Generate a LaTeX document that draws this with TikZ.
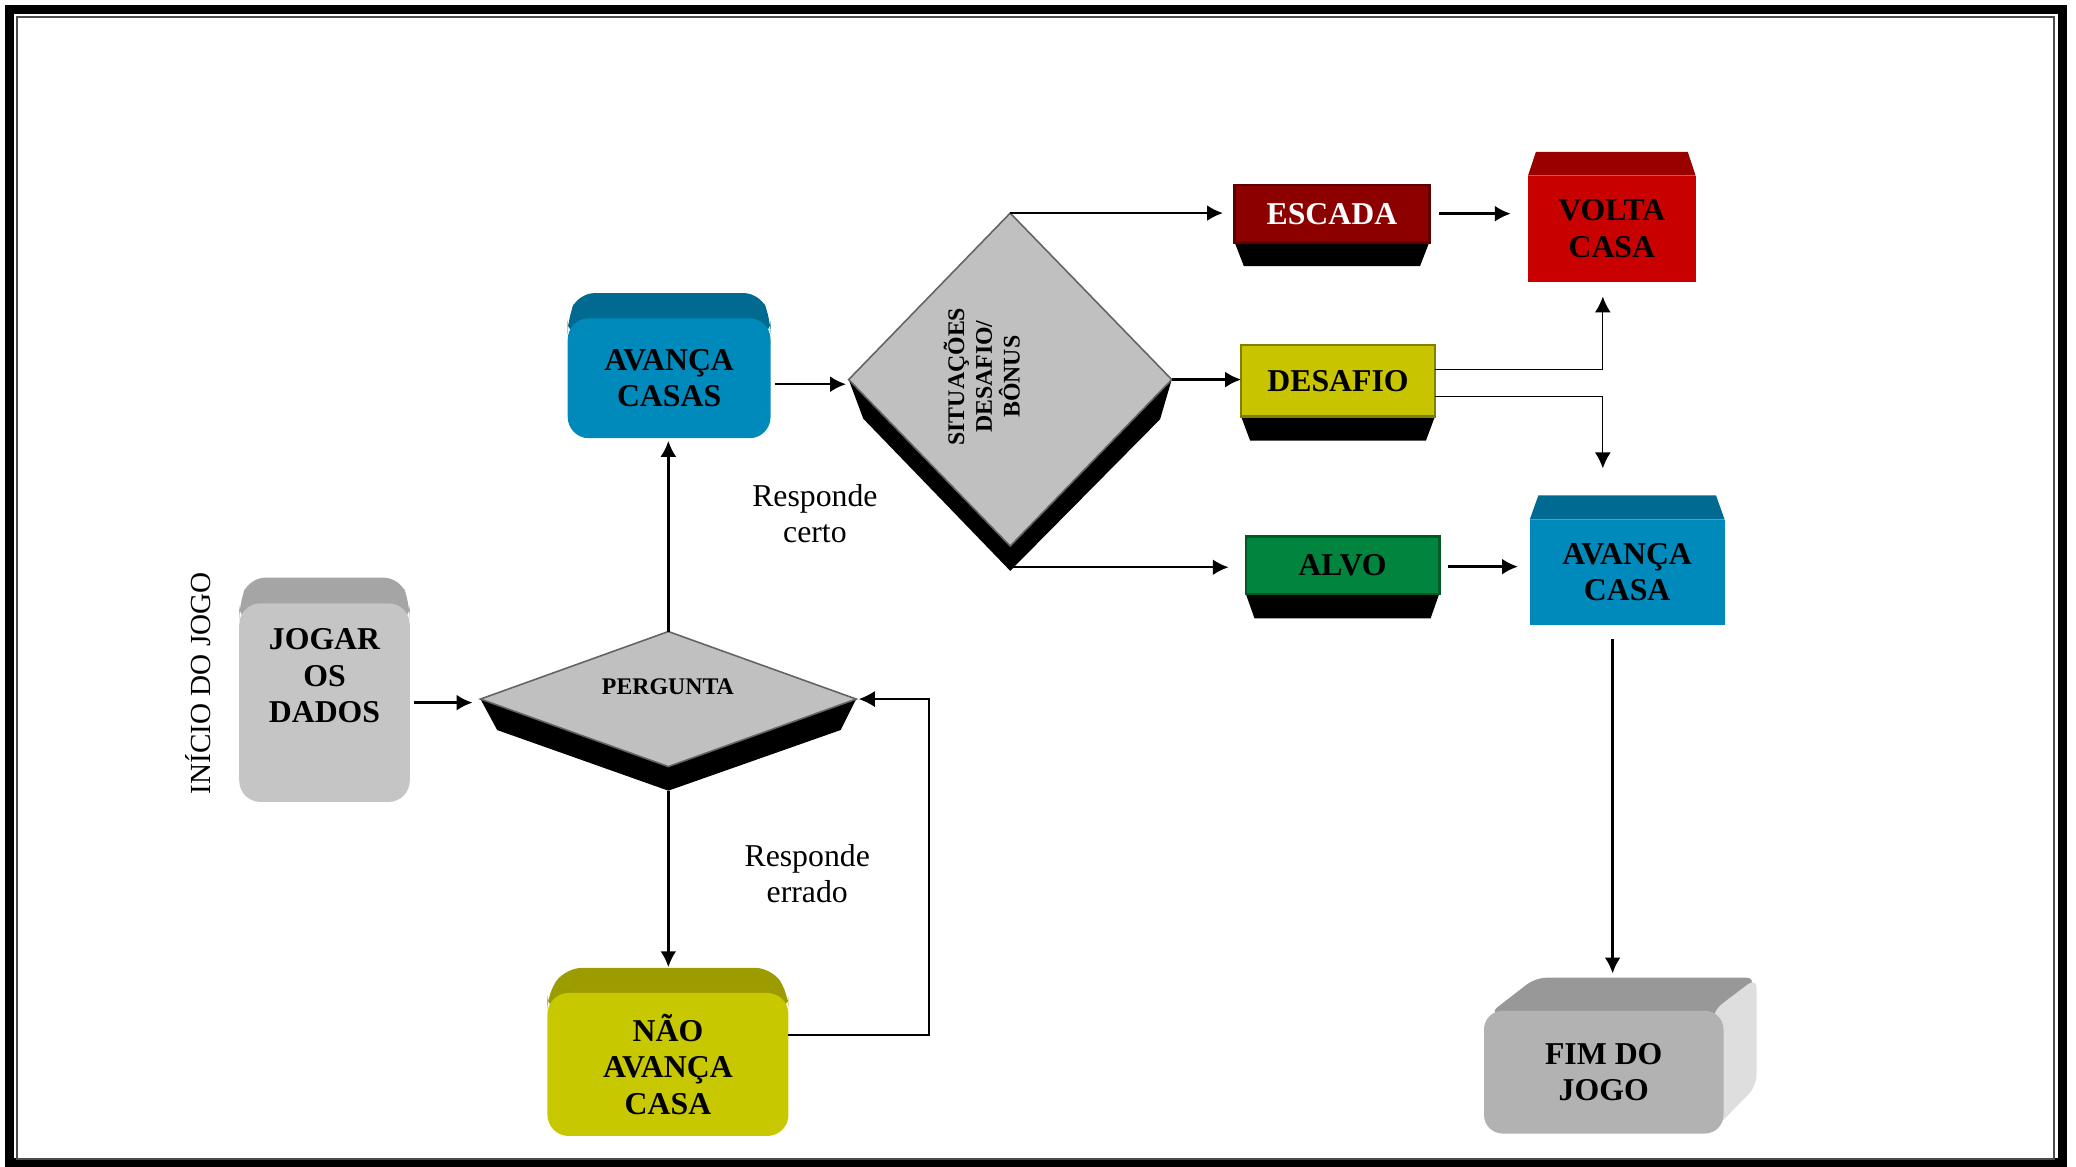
\documentclass[tikz,border=0pt]{standalone}
\usepackage{fontspec}
\setmainfont{Liberation Serif}
\usetikzlibrary{arrows.meta}
\usetikzlibrary{calc}
\usetikzlibrary{backgrounds}
\usetikzlibrary{shapes.geometric}
\definecolor{boxblue}{RGB}{0,137,187}
\definecolor{boxbluetop}{RGB}{0,106,145}
\definecolor{boxolive}{RGB}{200,200,0}
\definecolor{boxolivetop}{RGB}{156,156,0}
\definecolor{boxgray}{RGB}{197,197,197}
\definecolor{boxgraytop}{RGB}{165,165,165}
\definecolor{boxred}{RGB}{200,0,0}
\definecolor{boxredtop}{RGB}{153,0,0}
\definecolor{escred}{RGB}{140,0,0}
\definecolor{escline}{RGB}{95,0,0}
\definecolor{desyel}{RGB}{200,196,0}
\definecolor{desline}{RGB}{128,128,0}
\definecolor{alvogreen}{RGB}{0,132,62}
\definecolor{alvoline}{RGB}{0,90,40}
\definecolor{fimgray}{RGB}{178,178,178}
\definecolor{fimtop}{RGB}{152,152,152}
\definecolor{fimside}{RGB}{222,222,222}
\definecolor{dmdgray}{RGB}{192,192,192}
\definecolor{dmdline}{RGB}{100,100,100}
\begin{document}
\begin{tikzpicture}[
        x=0.5pt, y=-0.5pt,
        >={Latex[length=6pt,width=6pt]},
        arr/.style = {->, line width=0.9pt},
        thinarr/.style = {->, line width=0.5pt},
        face/.style = {inner sep=0pt, outer sep=0pt, align=center, font=\bfseries\fontsize{12}{13.8}\selectfont},
        dmd/.style = {diamond, draw=dmdline, line width=0.6pt, fill=dmdgray, inner sep=0pt, outer sep=0pt},
        small/.style = {inner sep=0pt, align=center, font=\bfseries\fontsize{9}{10.5}\selectfont},
        plain/.style = {align=center, font=\fontsize{12}{13.5}\selectfont}
    ]
    \useasboundingbox (0,0) rectangle (1568,881);
    \draw[line width=3.4pt] (7.2,7.2) rectangle (1557.7,878);
    \draw[line width=0.8pt, black!70] (12.9,12.9) rectangle (1551.4,875.4);

    \node[face, rounded corners=8pt, fill=boxgray, minimum width=64.4pt, minimum height=75pt] (jog) at (245.1,530.7) {};
    \node[face] (jogtxt) at (245.1,510.5) {JOGAR\\OS\\DADOS};
    \node[face, rounded corners=8pt, fill=boxblue, minimum width=76.6pt, minimum height=45.3pt] (acas) at (505.4,285.7) {AVANÇA\\CASAS};
    \node[face, rounded corners=8pt, fill=boxolive, minimum width=91pt, minimum height=54pt] (nao) at (504.5,804) {NÃO\\AVANÇA\\CASA};
    \node[face, fill=boxred, minimum width=63.35pt, minimum height=40pt] (volta) at (1217.4,172.7) {VOLTA\\CASA};
    \node[face, fill=boxblue, minimum width=73.6pt, minimum height=39.7pt] (acasa) at (1229,432.1) {AVANÇA\\CASA};
    \node[face, fill=escred, draw=escline, line width=1pt, text=white, minimum width=73.5pt, minimum height=21.65pt] (esc) at (1006,161.4) {ESCADA};
    \node[face, fill=desyel, draw=desline, line width=1pt, minimum width=73.2pt, minimum height=27pt] (des) at (1010.6,287.6) {DESAFIO};
    \node[face, fill=alvogreen, draw=alvoline, line width=1pt, minimum width=73pt, minimum height=21.65pt] (alvo) at (1014,427) {ALVO};
    \node[face, rounded corners=7pt, fill=fimgray, minimum width=90.45pt, minimum height=46.35pt] (fim) at (1211.3,809.8) {FIM DO\\JOGO};

    \node[dmd, minimum width=141.9pt, minimum height=51pt] (perg) at (504.8,528) {};
    \node[small] (pergtxt) at (504.5,518.5) {PERGUNTA};
    \node[dmd, minimum width=122pt, minimum height=125.75pt] (sit) at (763,286.7) {};
    \node[small, rotate=90] (sittxt) at (741.5,284.5) {SITUAÇÕES\\DESAFIO/\\BÔNUS};

    \node[font=\fontsize{11}{13}\selectfont, rotate=90] (inicio) at (150,516) {INÍCIO DO JOGO};
    \node[plain] (rcerto) at (615.5,388) {Responde\\certo};
    \node[plain] (rerrado) at (609.7,660) {Responde\\errado};

    \begin{scope}[on background layer]
        \fill[boxgraytop, rounded corners=6pt] ($(jog.north west)+(0,14)$) -- (jog.north west) -- ($(jog.north west)+(7.5,-19.4)$) -- ($(jog.north east)+(-7.5,-19.4)$) -- (jog.north east) -- ($(jog.north east)+(0,14)$) -- cycle;
        \fill[boxbluetop, rounded corners=6pt] ($(acas.north west)+(0,14)$) -- (acas.north west) -- ($(acas.north west)+(8,-19)$) -- ($(acas.north east)+(-8,-19)$) -- (acas.north east) -- ($(acas.north east)+(0,14)$) -- cycle;
        \fill[boxolivetop, rounded corners=6pt] ($(nao.north west)+(0,14)$) -- (nao.north west) -- ($(nao.north west)+(14,-19)$) -- ($(nao.north east)+(-13,-19)$) -- (nao.north east) -- ($(nao.north east)+(0,14)$) -- cycle;
        \fill[boxredtop] (volta.north west) -- ($(volta.north west)+(6,-18)$) -- ($(volta.north east)+(-6,-18)$) -- (volta.north east) -- cycle;
        \fill[boxbluetop] (acasa.north west) -- ($(acasa.north west)+(6.5,-18.2)$) -- ($(acasa.north east)+(-6.5,-18.2)$) -- (acasa.north east) -- cycle;
        \fill[black] (esc.south west) -- (esc.south east) -- ($(esc.south east)+(-7,18)$) -- ($(esc.south west)+(7,18)$) -- cycle;
        \fill[black] (des.south west) -- (des.south east) -- ($(des.south east)+(-6.8,18.2)$) -- ($(des.south west)+(6.8,18.2)$) -- cycle;
        \fill[black] (alvo.south west) -- (alvo.south east) -- ($(alvo.south east)+(-6.5,18.4)$) -- ($(alvo.south west)+(6.5,18.4)$) -- cycle;
        \fill[fimtop, rounded corners=4pt] ($(fim.north west)+(4,2)$) -- ($(fim.north west)+(39,-25)$) -- ($(fim.north east)+(25,-25)$) -- ($(fim.north east)+(0,8)$) -- cycle;
        \fill[fimside, rounded corners=4pt] ($(fim.north east)+(-8,0)$) -- ($(fim.north east)+(25,-25)$) -- ($(fim.south east)+(25,-36)$) -- ($(fim.south east)+(-8,-2)$) -- cycle;
        \fill[black] (perg.west) -- ($(perg.west)+(12.6,23.4)$) -- ($(perg.south)+(0,18.2)$) -- ($(perg.east)+(-11.8,23.4)$) -- (perg.east) -- (perg.south) -- cycle;
        \fill[black] (sit.west) -- ($(sit.west)+(11,29.5)$) -- ($(sit.south)+(0,18.7)$) -- ($(sit.east)+(-8.8,30)$) -- (sit.east) -- (sit.south) -- cycle;
    \end{scope}

    \coordinate (pergbot) at ($(perg.south)+(0,18.2)$);
    \coordinate (sitbot) at ($(sit.south)+(0,16)$);
    \draw[arr] ($(jog.east)+(3.4,0)$) -- ($(jog.east -| perg.west)+(-6,0)$);
    \draw[arr] (perg.north) -- ($(perg.north |- acas.south)+(0,2)$);
    \draw[arr] ($(acas.east |- sit.west)+(3.5,3.5)$) -- ($(sit.west)+(-2,3.5)$);
    \draw[arr] (pergbot) -- ($(pergbot |- nao.north)+(0,-19.5)$);
    \draw[thinarr, shorten >=1pt] ($(nao.east)+(0,-22.3)$) -- ++(106.2,0) |- (perg.east);
    \draw[arr] (sit.north) -- ($(sit.north -| esc.west)+(-8.8,0)$);
    \draw[arr] (sit.east) -- (sit.east -| des.west);
    \draw[arr] (sitbot) -- ($(sitbot -| alvo.west)+(-13,0)$);
    \draw[arr] ($(esc.east)+(7.5,0)$) -- ($(esc.east -| volta.west)+(-13,0)$);
    \draw[thinarr] ($(des.east)+(0,-8.6)$) -| ($(volta.south)+(-6.8,11.3)$);
    \draw[thinarr] ($(des.east)+(0,12)$) -| ($(acasa.north)+(-18.4,-38.7)$);
    \draw[arr] ($(alvo.east)+(6.8,1)$) -- ($(alvo.east -| acasa.west)+(-8.9,1)$);
    \draw[arr] ($(acasa.south)+(-11,10.7)$) -- ($(acasa.south |- fim.north)+(-11,-28.2)$);
\end{tikzpicture}
\end{document}
